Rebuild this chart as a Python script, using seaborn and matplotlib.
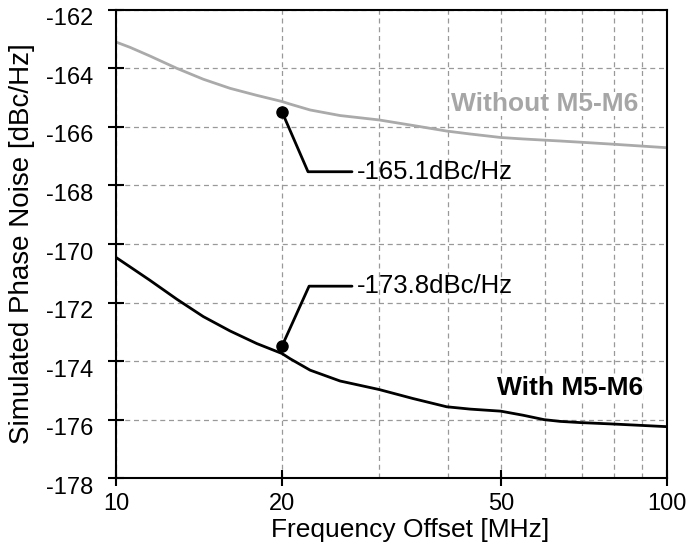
import numpy as np
import pandas as pd
import seaborn as sns
import matplotlib.pyplot as plt
import matplotlib.transforms as mtransforms

# 频偏 (MHz)
freq_mhz = [10, 10.6, 11.5, 12.9, 14.4, 16.1, 18, 20, 20.7, 22.5, 25.5, 30,
            34.6, 39.8, 43.9, 49.9, 54.8, 59.8, 64, 69.5, 79.9, 100]
# 无 M5-M6 的相位噪声 (dBc/Hz)
pn_without = [-163.10, -163.28, -163.57, -164.00, -164.37, -164.68, -164.92, -165.13,
              -165.22, -165.42, -165.61, -165.76, -165.95, -166.14, -166.24, -166.36,
              -166.41, -166.45, -166.48, -166.52, -166.59, -166.71]
# 有 M5-M6 的相位噪声 (dBc/Hz)
pn_with = [-170.46, -170.78, -171.23, -171.89, -172.48, -172.97, -173.40, -173.74,
           -173.92, -174.31, -174.68, -174.97, -175.28, -175.56, -175.64, -175.71,
           -175.85, -176.00, -176.06, -176.10, -176.15, -176.24]

# 标注
mark_freq = [20, 20]
mark_db = [-165.48, -173.49]
mark_text = ['-165.1dBc/Hz', '-173.8dBc/Hz']

x_ticks = [10, 20, 50, 100]
y_ticks = list(range(-178, -161, 2))


def main():
    sns.set_theme(style='white')
    plt.rcParams['font.family'] = ['Liberation Sans', 'DejaVu Sans']
    plt.rcParams['text.color'] = 'black'
    plt.rcParams['axes.labelcolor'] = 'black'
    plt.rcParams['xtick.color'] = 'black'
    plt.rcParams['ytick.color'] = 'black'

    df = pd.concat([
        pd.DataFrame({'freq': freq_mhz, 'pn': pn_without, 'case': 'Without M5-M6'}),
        pd.DataFrame({'freq': freq_mhz, 'pn': pn_with, 'case': 'With M5-M6'}),
    ])

    fig = plt.figure(figsize=(6.87, 5.49), dpi=100)
    ax = fig.add_axes([0.169, 0.129, 0.802, 0.853])

    sns.lineplot(data=df, x='freq', y='pn', hue='case',
                 palette={'Without M5-M6': '#aaaaaa', 'With M5-M6': 'black'},
                 linewidth=2, legend=False, ax=ax)

    ax.set_xscale('log')
    ax.set_xlim(10, 100)
    ax.set_ylim(-178, -162)
    ax.set_xticks(x_ticks)
    ax.set_xticklabels([str(t) for t in x_ticks])
    ax.set_xticks([30, 40, 60, 70, 80, 90], minor=True)
    ax.set_xticklabels([], minor=True)
    ax.set_yticks(y_ticks)
    ax.set_yticklabels([str(t) for t in y_ticks])

    ax.grid(True, which='both', axis='x', color='#999999', linestyle=(0, (4, 3)), linewidth=0.9)
    ax.grid(True, which='major', axis='y', color='#999999', linestyle=(0, (4, 3)), linewidth=0.9)

    for s in ax.spines.values():
        s.set_color('black')
        s.set_linewidth(1.5)

    ax.tick_params(axis='both', which='major', direction='inout', length=12, width=1.5,
                   color='black', labelcolor='black', labelsize=17, left=True, bottom=True)
    ax.tick_params(axis='y', which='major', pad=10.5)
    ax.tick_params(axis='x', which='major', pad=5)
    ax.tick_params(axis='x', which='minor', length=0)

    # y 轴刻度标签略微下移
    offset = mtransforms.ScaledTranslation(0, -7 / 100, fig.dpi_scale_trans)
    for lab in ax.get_yticklabels():
        lab.set_transform(lab.get_transform() + offset)

    ax.set_xlabel('Frequency Offset [MHz]', fontsize=19, color='black')
    ax.xaxis.set_label_coords(0.534, -0.085)
    ax.set_ylabel('Simulated Phase Noise [dBc/Hz]', fontsize=20, labelpad=8, color='black')

    # 标注点和引线
    elbow_x = [22.3, 22.4]
    elbow_y = [-167.53, -171.44]
    end_x = 26.8
    for fx, db, ex, ey, txt in zip(mark_freq, mark_db, elbow_x, elbow_y, mark_text):
        ax.plot([fx, ex, end_x], [db, ey, ey], color='black', linewidth=2, zorder=4)
        ax.plot([fx], [db], 'o', color='black', markersize=8, zorder=5)
        ax.text(27.4, ey, txt, fontsize=18.5, va='center', ha='left', zorder=5)

    ax.text(88.6, -165.22, 'Without M5-M6', color='#a6a6a6', fontsize=19, fontweight='bold',
            ha='right', va='center', zorder=5,
            bbox=dict(facecolor='white', edgecolor='none', pad=0))
    ax.text(90.5, -174.92, 'With M5-M6', color='black', fontsize=19, fontweight='bold',
            ha='right', va='center', zorder=5,
            bbox=dict(facecolor='white', edgecolor='none', pad=0))

    fig.savefig('out.png', dpi=100)


if __name__ == '__main__':
    main()
